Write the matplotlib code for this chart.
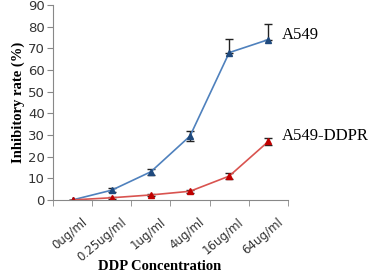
import matplotlib.pyplot as plt
import matplotlib.transforms as mtransforms
import numpy as np

# Concentrations and inhibitory rates
categories = ['0ug/ml', '0.25ug/ml', '1ug/ml', '4ug/ml', '16ug/ml', '64ug/ml']
a549 = [0, 4.5, 13, 29.5, 68, 74]
a549_err_up = [0, 1, 1.5, 2.5, 6.5, 7]
a549_err_dn = [0, 1, 1.5, 2.5, 0, 0]
ddpr = [0, 1, 2.3, 4, 11, 27]
ddpr_err_up = [0, 0.5, 0.5, 0.7, 1.2, 1.5]
ddpr_err_dn = [0, 0.5, 0.5, 0.7, 1.2, 1.5]

fig = plt.figure(figsize=(3.73, 2.75), dpi=100)
ax = fig.add_axes([0.142, 0.273, 0.63, 0.709])

x = np.arange(len(categories))
ax.errorbar(x, a549, yerr=[a549_err_dn, a549_err_up], color='#4F81BD', lw=1.2,
            marker='^', ms=5, mfc='#1F497D', mec='#1F497D', ecolor='#222222',
            elinewidth=1, capsize=3)
ax.errorbar(x, ddpr, yerr=[ddpr_err_dn, ddpr_err_up], color='#D9534F', lw=1.2,
            marker='^', ms=5, mfc='#C00000', mec='#C00000', ecolor='#222222',
            elinewidth=1, capsize=3)

ax.set_xlim(-0.5, len(categories) - 0.5)
ax.set_ylim(0, 90)
ax.set_yticks(range(0, 91, 10))
ax.set_yticklabels([str(v) for v in range(0, 91, 10)], fontsize=9.5, color='#333333')

ax.set_xticks(x)
ax.set_xticklabels(categories, rotation=40, ha='right', rotation_mode='anchor',
                   fontsize=8.5, color='#333333')
ax.tick_params(axis='x', length=0, pad=11)
shift = mtransforms.ScaledTranslation(9 / 100, 0, fig.dpi_scale_trans)
for lbl in ax.get_xticklabels():
    lbl.set_transform(lbl.get_transform() + shift)
ax.set_xticks(np.arange(-0.5, len(categories)), minor=True)
ax.tick_params(axis='x', which='minor', length=4, color='#888888')
ax.tick_params(axis='y', length=4, color='#888888', pad=2)

for s in ['top', 'right']:
    ax.spines[s].set_visible(False)
for s in ['left', 'bottom']:
    ax.spines[s].set_color('#888888')

ax.text(5.35, 76, 'A549', fontsize=12, family='Liberation Serif', va='center')
ax.text(5.35, 29.5, 'A549-DDPR', fontsize=12, family='Liberation Serif', va='center')

fig.text(160 / 373, 1 - 266 / 275, 'DDP Concentration', fontsize=10.5,
         fontweight='bold', family='Liberation Serif', ha='center', va='center')
ax.set_ylabel('Inhibitory rate (%)', fontsize=10.5, fontweight='bold',
              family='Liberation Serif', labelpad=2)

fig.savefig('out.png', dpi=100)
